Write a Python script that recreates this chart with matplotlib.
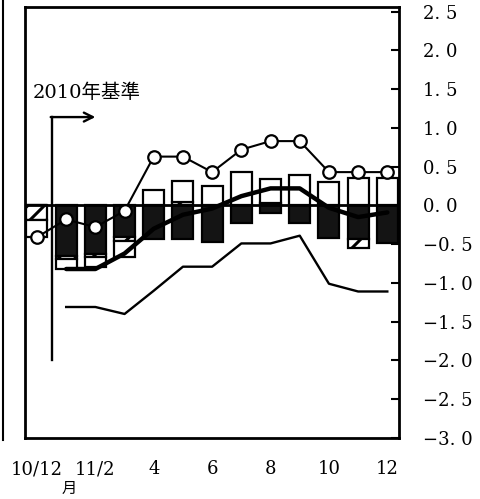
import numpy as np
import matplotlib
matplotlib.use("Agg")
from matplotlib import pyplot as plt
from matplotlib.lines import Line2D

# month index: 0 = 2010/12, 1..12 = 2011/1..12
months = np.arange(13)
tick_pos = [0, 2, 4, 6, 8, 10, 12]
tick_labels = ["10/12", "11/2", "4", "6", "8", "10", "12"]

# stacked contributions (dark, hatched, white)
dark = [0.0, -0.65, -0.62, -0.41, -0.43, -0.43, -0.47, -0.22, -0.10, -0.22, -0.42, -0.43, -0.48]
hatched = [-0.19, -0.04, -0.04, -0.05, 0.0, 0.05, 0.0, 0.0, 0.03, 0.0, 0.0, -0.12, 0.0]
white = [-0.22, -0.13, -0.14, -0.20, 0.20, 0.26, 0.25, 0.43, 0.31, 0.39, 0.30, 0.36, 0.36]

# lines
circles = [-0.41, -0.18, -0.28, -0.07, 0.63, 0.63, 0.43, 0.72, 0.83, 0.83, 0.43, 0.43, 0.43]
thick = [np.nan, -0.82, -0.82, -0.62, -0.30, -0.12, -0.04, 0.12, 0.22, 0.22, -0.03, -0.15, -0.09]
thin = [np.nan, -1.31, -1.31, -1.40, -1.10, -0.79, -0.79, -0.49, -0.49, -0.39, -1.01, -1.11, -1.11]

yticks = np.arange(-3.0, 2.51, 0.5)

plt.rcParams["hatch.linewidth"] = 2.2
serif = "DejaVu Serif"
cjk = [serif, "Noto Sans CJK JP"]

fig = plt.figure(figsize=(4.8, 4.99), dpi=100)
ax = fig.add_axes([25 / 480, 1 - 438 / 499, 374 / 480, 431 / 499])

# stacked bars, positive and negative stacked separately
pos_base = np.zeros(13)
neg_base = np.zeros(13)
w = 0.72
for vals, style in [(dark, "dark"), (hatched, "hatch"), (white, "white")]:
    v = np.array(vals)
    bottom = np.where(v >= 0, pos_base, neg_base)
    if style == "dark":
        ax.bar(months, v, bottom=bottom, width=w, facecolor="#141414",
               edgecolor="black", lw=1.6, zorder=2)
    elif style == "hatch":
        ax.bar(months, v, bottom=bottom, width=w, facecolor="white",
               edgecolor="black", hatch="//", lw=1.6, zorder=2)
    else:
        ax.bar(months, v, bottom=bottom, width=w, facecolor="white",
               edgecolor="black", lw=1.6, zorder=2)
    pos_base += np.where(v > 0, v, 0)
    neg_base += np.where(v < 0, v, 0)

ax.axhline(0, color="black", lw=2, zorder=3)

ax.plot(months, thin, color="black", lw=1.7, zorder=4)
ax.plot(months, thick, color="black", lw=3.2, zorder=4, solid_capstyle="round")
ax.plot(months, circles, color="black", lw=1.5, marker="o", ms=9,
        mfc="white", mec="black", mew=1.6, zorder=5)

# base change marker
base_x = 0.5
ax.plot([base_x, base_x], [-2.0, 1.14], color="black", lw=1.7, zorder=4)
ax.annotate("", xy=(2.0, 1.14), xytext=(base_x - 0.03, 1.14),
            arrowprops=dict(arrowstyle="->", lw=1.7, color="black",
                            shrinkA=0, shrinkB=0, mutation_scale=16))
ax.text(-0.14, 1.45, "2010年基準", family=cjk, fontsize=14, va="center", ha="left")

ax.set_xlim(-0.41, 12.4)
ax.set_ylim(-3.0, 2.56)

ax.yaxis.tick_right()
ax.set_yticks(yticks)
ax.set_yticklabels([f"{v:.1f}".replace(".", ". ").replace("-", "\u2212") for v in yticks],
                   family=serif, fontsize=13)
ax.tick_params(axis="y", direction="in", length=6, width=1.5, pad=17,
               right=True, left=False)
for lab in ax.get_yticklabels():
    lab.set_horizontalalignment("left")

ax.set_xticks(tick_pos)
ax.set_xticklabels(tick_labels, family=serif, fontsize=13)
ax.tick_params(axis="x", length=0, pad=16)
ax.text(1.1, -0.118, "月", family=cjk, fontsize=11, ha="center", va="center",
        transform=ax.get_xaxis_transform())

for s in ax.spines.values():
    s.set_linewidth(2)

# edge of neighbouring panel
fig.add_artist(Line2D([0.006, 0.006], [1 - 440 / 499, 1], color="black", lw=1.5))

fig.savefig("out.png", dpi=100)
